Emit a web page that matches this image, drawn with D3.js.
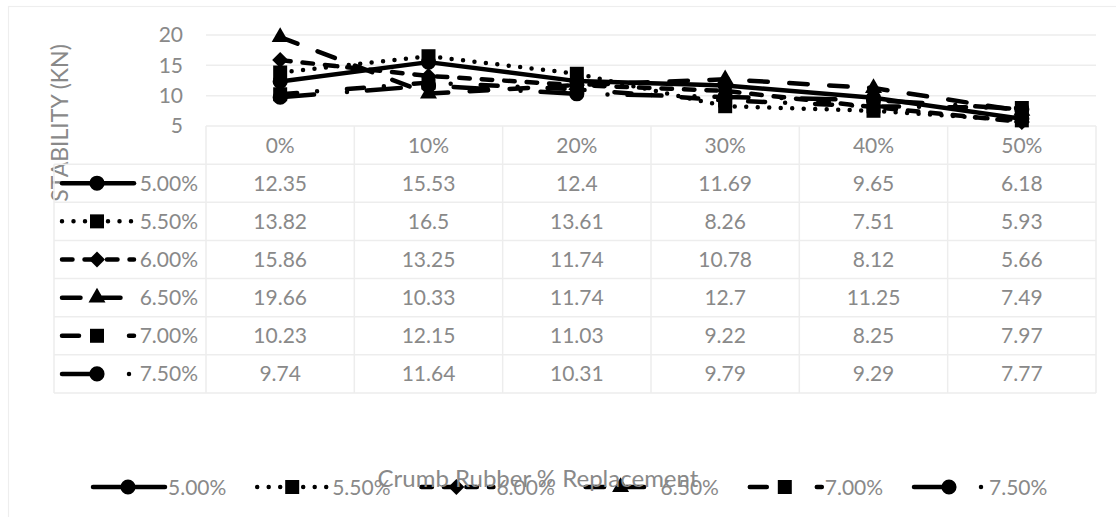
<!DOCTYPE html>
<html>
<head>
<meta charset="utf-8">
<script src="https://cdn.jsdelivr.net/npm/d3@7"></script>
<style>
  body { margin: 0; background: #fff; }
  svg { display: block; }
  text { font-family: Lato, "Open Sans", sans-serif; }
</style>
</head>
<body>
<svg id="chart" width="1116" height="517"></svg>
<script>
// Crumb rubber replacement levels (x categories)
const categories = ["0%", "10%", "20%", "30%", "40%", "50%"];
// Binder contents (one series each)
const seriesNames = ["5.00%", "5.50%", "6.00%", "6.50%", "7.00%", "7.50%"];
// Marshall stability, kN
const stab500 = [12.35, 15.53, 12.4, 11.69, 9.65, 6.18];
const stab550 = [13.82, 16.5, 13.61, 8.26, 7.51, 5.93];
const stab600 = [15.86, 13.25, 11.74, 10.78, 8.12, 5.66];
const stab650 = [19.66, 10.33, 11.74, 12.7, 11.25, 7.49];
const stab700 = [10.23, 12.15, 11.03, 9.22, 8.25, 7.97];
const stab750 = [9.74, 11.64, 10.31, 9.79, 9.29, 7.77];
const yTicks = [5, 10, 15, 20];
const yTitle = "STABILITY (KN)";
const xTitle = "Crumb Rubber % Replacement";

const seriesValues = [stab500, stab550, stab600, stab650, stab700, stab750];

// line dash and marker style for each series
const styles = [
  { dash: null,           marker: "circle"   },
  { dash: "0 11.5",       marker: "square"   },
  { dash: "10.5 12",      marker: "diamond"  },
  { dash: "18.5 21.5",    marker: "triangle" },
  { dash: "17 20 0 30",   marker: "square"   },
  { dash: "34 33 0 20",   marker: "circle"   }
];

const textColor = "#898989";
const gridColor = "#ededed";
const fontSize = 21;
const lineW = 4.5;

const svg = d3.select("#chart");

// chart frame
svg.append("rect")
  .attr("x", 8.5).attr("y", 6.5)
  .attr("width", 1120).attr("height", 520)
  .attr("fill", "#fff").attr("stroke", "#eeeeee").attr("stroke-width", 1.2);

const plotLeft = 206, plotRight = 1096;
const x = d3.scaleBand().domain(categories).range([plotLeft, plotRight]);
const y = d3.scaleLinear().domain([5, 20]).range([126, 35]);

// table rows: header + one per series
const rows = d3.scaleBand().domain(["__header"].concat(seriesNames)).range([126, 393]);
const tableLeft = 54;

// horizontal gridlines
svg.append("g").selectAll("line")
  .data(yTicks.filter(t => t > 5))
  .join("line")
  .attr("x1", plotLeft).attr("x2", plotRight)
  .attr("y1", d => y(d)).attr("y2", d => y(d))
  .attr("stroke", gridColor).attr("stroke-width", 1.5);

// y axis labels
const yAxis = d3.axisLeft(y).tickValues(yTicks).tickSize(0).tickPadding(0);
const yg = svg.append("g").attr("transform", "translate(183,0)").call(yAxis);
yg.select(".domain").remove();
yg.selectAll("text")
  .attr("fill", textColor)
  .style("font-family", "Lato, sans-serif")
  .style("font-size", fontSize + "px");

// y axis title
svg.append("text")
  .attr("transform", "translate(68,123) rotate(-90)")
  .attr("text-anchor", "middle")
  .attr("fill", textColor)
  .style("font-size", "23px")
  .text(yTitle);

// data table grid
const table = svg.append("g");
const rowEdges = rows.domain().map(r => rows(r)).concat([rows.range()[1]]);
table.selectAll("line.h")
  .data(rowEdges)
  .join("line")
  .attr("class", "h")
  .attr("x1", (d, i) => i === 0 ? plotLeft : tableLeft)
  .attr("x2", plotRight)
  .attr("y1", d => d).attr("y2", d => d)
  .attr("stroke", gridColor).attr("stroke-width", 1.5);
const colEdges = categories.map(c => x(c)).concat([plotRight]);
table.selectAll("line.v")
  .data(colEdges)
  .join("line")
  .attr("class", "v")
  .attr("x1", d => d).attr("x2", d => d)
  .attr("y1", 126).attr("y2", rows.range()[1])
  .attr("stroke", gridColor).attr("stroke-width", 1.5);
table.append("line")
  .attr("x1", tableLeft).attr("x2", tableLeft)
  .attr("y1", rows(seriesNames[0])).attr("y2", rows.range()[1])
  .attr("stroke", gridColor).attr("stroke-width", 1.5);

// header labels
table.selectAll("text.hdr")
  .data(categories)
  .join("text")
  .attr("class", "hdr")
  .attr("x", d => x(d) + x.bandwidth() / 2)
  .attr("y", rows("__header") + rows.bandwidth() / 2)
  .attr("dy", "0.36em")
  .attr("text-anchor", "middle")
  .attr("fill", textColor)
  .style("font-size", fontSize + "px")
  .text(d => d);

// table values
seriesNames.forEach((name, si) => {
  table.append("g").selectAll("text")
    .data(seriesValues[si])
    .join("text")
    .attr("x", (d, i) => x(categories[i]) + x.bandwidth() / 2)
    .attr("y", rows(name) + rows.bandwidth() / 2)
    .attr("dy", "0.36em")
    .attr("text-anchor", "middle")
    .attr("fill", textColor)
    .style("font-size", fontSize + "px")
    .text(d => d);
});

function markerPath(type) {
  switch (type) {
    case "circle":   return d3.symbol(d3.symbolCircle, 180)();
    case "square":   return d3.symbol(d3.symbolSquare, 196)();
    case "diamond":  return d3.symbol(d3.symbolSquare, 128)();
    case "triangle": return d3.symbol(d3.symbolTriangle, 125)();
  }
}
function markerRotate(type) { return type === "diamond" ? " rotate(45)" : ""; }

// a legend key: dashed line with the marker in the middle
function drawKey(g, x0, yc, style) {
  const len = 72;
  const ln = g.append("line")
    .attr("x1", x0).attr("x2", x0 + len)
    .attr("y1", yc).attr("y2", yc)
    .attr("stroke", "#000").attr("stroke-width", lineW)
    .attr("stroke-linecap", "round");
  if (style.dash) ln.attr("stroke-dasharray", style.dash);
  g.append("path")
    .attr("d", markerPath(style.marker))
    .attr("transform", `translate(${x0 + 35},${yc})${markerRotate(style.marker)}`)
    .attr("fill", "#000");
}

// legend keys in the table
seriesNames.forEach((name, si) => {
  const yc = rows(name) + rows.bandwidth() / 2;
  const g = table.append("g");
  drawKey(g, 62, yc, styles[si]);
  g.append("text")
    .attr("x", 198).attr("y", yc).attr("dy", "0.36em")
    .attr("text-anchor", "end")
    .attr("fill", textColor)
    .style("font-size", fontSize + "px")
    .text(name);
});

// series lines and markers
const line = d3.line()
  .x((d, i) => x(categories[i]) + x.bandwidth() / 2)
  .y(d => y(d));

seriesNames.forEach((name, si) => {
  const st = styles[si];
  const g = svg.append("g").attr("class", "series");
  const p = g.append("path")
    .datum(seriesValues[si])
    .attr("d", line)
    .attr("fill", "none")
    .attr("stroke", "#000")
    .attr("stroke-width", lineW)
    .attr("stroke-linecap", "round")
    .attr("stroke-linejoin", "round");
  if (st.dash) p.attr("stroke-dasharray", st.dash);
  g.selectAll("path.mk")
    .data(seriesValues[si])
    .join("path")
    .attr("class", "mk")
    .attr("d", markerPath(st.marker))
    .attr("transform", (d, i) =>
      `translate(${x(categories[i]) + x.bandwidth() / 2},${y(d)})${markerRotate(st.marker)}`)
    .attr("fill", "#000");
});

// bottom legend
const legend = svg.append("g");
const legStart = 93, legStep = 164.2, legY = 487;
seriesNames.forEach((name, si) => {
  const g = legend.append("g");
  const x0 = legStart + si * legStep;
  drawKey(g, x0, legY, styles[si]);
  g.append("text")
    .attr("x", x0 + 75).attr("y", legY).attr("dy", "0.36em")
    .attr("fill", textColor)
    .style("font-size", fontSize + "px")
    .text(name);
});

// x axis title
svg.append("text")
  .attr("x", 538).attr("y", 487)
  .attr("text-anchor", "middle")
  .attr("fill", textColor)
  .style("font-size", "24px")
  .text(xTitle);
</script>
</body>
</html>
